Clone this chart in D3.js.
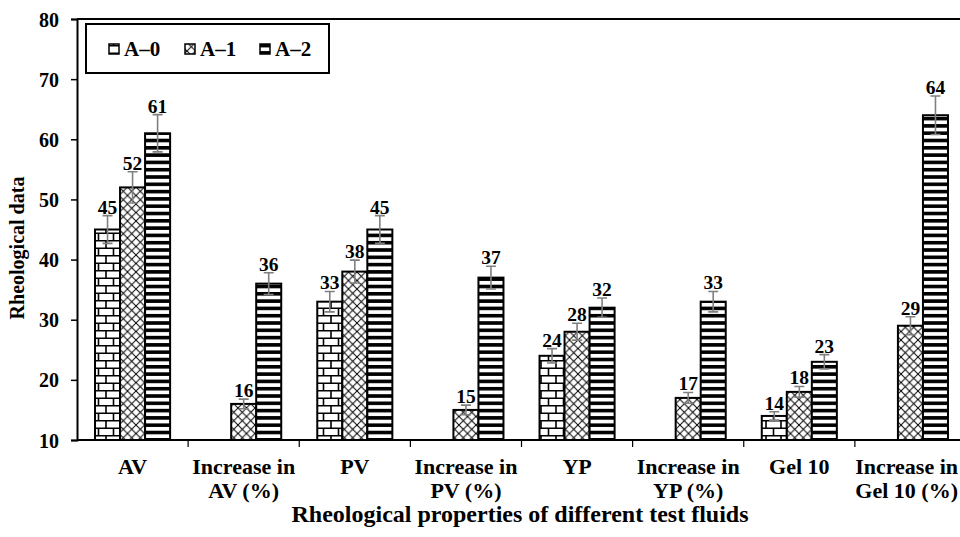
<!DOCTYPE html>
<html>
<head>
<meta charset="utf-8">
<script src="https://cdn.jsdelivr.net/npm/d3@7"></script>
<style>
  body { margin: 0; background: #fff; }
  svg text { font-family: "Liberation Serif", "Times New Roman", serif; font-weight: bold; fill: #000; }
</style>
</head>
<body>
<svg id="chart" width="960" height="537"></svg>
<script>
const categories = [
  ["AV"],
  ["Increase in", "AV (%)"],
  ["PV"],
  ["Increase in", "PV (%)"],
  ["YP"],
  ["Increase in", "YP (%)"],
  ["Gel 10"],
  ["Increase in", "Gel 10 (%)"],
];
const seriesNames = ["A\u20130", "A\u20131", "A\u20132"];
const valuesA0 = [45, null, 33, null, 24, null, 14, null];
const valuesA1 = [52, 16, 38, 15, 28, 17, 18, 29];
const valuesA2 = [61, 36, 45, 37, 32, 33, 23, 64];
const errorsA0 = [2.3, null, 1.7, null, 1.2, null, 0.7, null];
const errorsA1 = [2.6, 0.8, 1.9, 0.8, 1.4, 0.9, 0.9, 1.5];
const errorsA2 = [3.1, 1.8, 2.3, 1.9, 1.6, 1.7, 1.2, 3.2];
const yTicks = [10, 20, 30, 40, 50, 60, 70, 80];

const allValues = [valuesA0, valuesA1, valuesA2];
const allErrors = [errorsA0, errorsA1, errorsA2];

const svg = d3.select("#chart");
const margin = { top: 19, left: 77, bottom: 440, right: 966 };

// patterns
const defs = svg.append("defs");

const brick = defs.append("pattern")
  .attr("id", "pat0")
  .attr("patternUnits", "userSpaceOnUse")
  .attr("width", 15).attr("height", 15);
brick.append("rect").attr("width", 15).attr("height", 15).attr("fill", "#fff");
brick.append("path")
  .attr("d", "M0,0.75H15M0,8.25H15M1,0V8.25M8.5,8.25V15")
  .attr("stroke", "#000").attr("stroke-width", 1.6).attr("fill", "none");

const cross = defs.append("pattern")
  .attr("id", "pat1")
  .attr("patternUnits", "userSpaceOnUse")
  .attr("width", 8.5).attr("height", 8.5);
cross.append("rect").attr("width", 8.5).attr("height", 8.5).attr("fill", "#fff");
cross.append("path")
  .attr("d", "M0,0L8.5,8.5M8.5,0L0,8.5")
  .attr("stroke", "#000").attr("stroke-width", 1).attr("fill", "none");

const stripes = defs.append("pattern")
  .attr("id", "pat2")
  .attr("patternUnits", "userSpaceOnUse")
  .attr("width", 10).attr("height", 7.3);
stripes.append("rect").attr("width", 10).attr("height", 7.3).attr("fill", "#fff");
stripes.append("rect").attr("y", 0).attr("width", 10).attr("height", 3.6).attr("fill", "#000");

const x0 = d3.scaleBand()
  .domain(d3.range(categories.length))
  .range([margin.left, margin.right])
  .padding(0);

const x1 = d3.scaleBand()
  .domain(d3.range(seriesNames.length))
  .range([0, x0.bandwidth()])
  .paddingInner(0)
  .paddingOuter(0.72);

const y = d3.scaleLinear().domain([10, 80]).range([margin.bottom, margin.top]);

// top frame line
svg.append("line")
  .attr("x1", margin.left).attr("x2", 960)
  .attr("y1", margin.top).attr("y2", margin.top)
  .attr("stroke", "#000").attr("stroke-width", 2);

// bars
allValues.forEach((vals, s) => {
  const g = svg.append("g");
  vals.forEach((v, i) => {
    if (v == null) return;
    const bx = x0(i) + x1(s);
    g.append("rect")
      .attr("x", bx)
      .attr("y", y(v))
      .attr("width", x1.bandwidth())
      .attr("height", y(10) - y(v))
      .attr("fill", `url(#pat${s})`)
      .attr("stroke", "#000")
      .attr("stroke-width", 2);

    const e = allErrors[s][i];
    const cx = bx + x1.bandwidth() / 2;
    g.append("path")
      .attr("d", `M${cx - 5},${y(v + e)}H${cx + 5}M${cx},${y(v + e)}V${y(v - e)}M${cx - 5},${y(v - e)}H${cx + 5}`)
      .attr("stroke", "#808080").attr("stroke-width", 1.6).attr("fill", "none");

    g.append("text")
      .attr("x", cx)
      .attr("y", y(v + e) - 2)
      .attr("text-anchor", "middle")
      .attr("font-size", 19.5)
      .text(v);
  });
});

// y axis
const yAxis = svg.append("g")
  .attr("transform", `translate(${margin.left},0)`)
  .call(d3.axisLeft(y).tickValues(yTicks).tickSize(6).tickPadding(12));
yAxis.select(".domain").attr("stroke", "#000").attr("stroke-width", 2);
yAxis.selectAll(".tick line").attr("stroke", "#000").attr("stroke-width", 1.5);
yAxis.selectAll(".tick text").attr("font-size", 20).attr("dy", "0.35em");

// x axis
svg.append("line")
  .attr("x1", margin.left).attr("x2", 960)
  .attr("y1", margin.bottom).attr("y2", margin.bottom)
  .attr("stroke", "#000").attr("stroke-width", 2);
svg.selectAll(".xtick")
  .data(d3.range(1, categories.length))
  .join("line")
  .attr("class", "xtick")
  .attr("x1", (i) => x0(i)).attr("x2", (i) => x0(i))
  .attr("y1", margin.bottom).attr("y2", margin.bottom + 7)
  .attr("stroke", "#000").attr("stroke-width", 1.2);

categories.forEach((lines, i) => {
  const t = svg.append("text")
    .attr("text-anchor", "middle")
    .attr("font-size", 22);
  lines.forEach((line, k) => {
    const span = t.append("tspan")
      .attr("x", x0(i) + x0.bandwidth() / 2)
      .attr("y", 474 + k * 24)
      .text(line);
    // keep the last label inside the picture
    const w = span.node().getComputedTextLength();
    const cx = Math.min(x0(i) + x0.bandwidth() / 2, 958 - w / 2);
    span.attr("x", cx);
  });
});

svg.append("text")
  .attr("x", 520).attr("y", 522)
  .attr("text-anchor", "middle")
  .attr("font-size", 24)
  .text("Rheological properties of different test fluids");

svg.append("text")
  .attr("transform", "translate(24,248) rotate(-90)")
  .attr("text-anchor", "middle")
  .attr("font-size", 20)
  .text("Rheological data");

// legend
svg.append("rect")
  .attr("x", 86).attr("y", 24)
  .attr("width", 243).attr("height", 49)
  .attr("fill", "#fff").attr("stroke", "#000").attr("stroke-width", 2);

const legendX = [109, 185, 260];
seriesNames.forEach((name, s) => {
  svg.append("rect")
    .attr("x", legendX[s]).attr("y", 44)
    .attr("width", 10).attr("height", 10)
    .attr("fill", `url(#pat${s})`)
    .attr("stroke", "#000").attr("stroke-width", 1.5);
  svg.append("text")
    .attr("x", legendX[s] + 15).attr("y", 56)
    .attr("font-size", 21)
    .text(name);
});
</script>
</body>
</html>
